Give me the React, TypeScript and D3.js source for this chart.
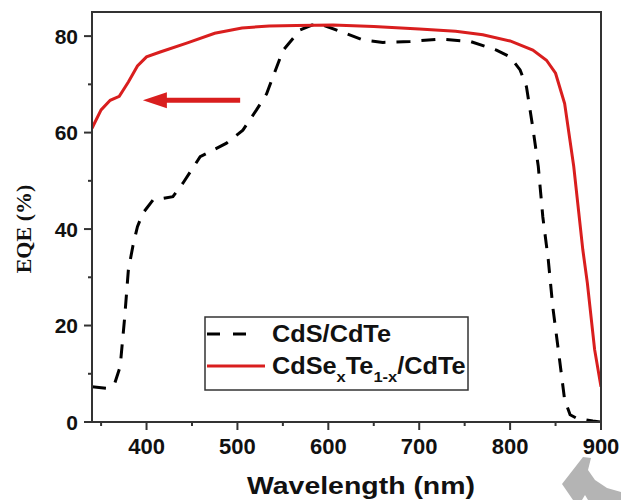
import React from "react";
import * as d3 from "d3";

const wlCdSeTe = [340, 350, 360, 370, 380, 390, 400, 415, 445, 475, 505, 535, 565, 605, 650, 700, 740, 770, 800, 825, 840, 850, 860, 870, 880, 885, 893, 900];
const eqeCdSeTe = [60.9, 64.7, 66.7, 67.5, 70.5, 73.8, 75.7, 76.7, 78.6, 80.6, 81.7, 82.1, 82.2, 82.3, 82.0, 81.5, 81.0, 80.3, 79.0, 77.1, 75.0, 72.3, 66, 53, 35.7, 28.8, 15, 7.3];

const wlCdS = [340, 356, 365, 371, 376, 380, 385, 390, 396, 407, 429, 440, 459, 488, 506, 521, 532, 550, 569, 582, 594, 613, 638, 660, 690, 723, 756, 785, 800, 811, 818, 825, 831, 836, 842, 847, 853, 860, 866, 873, 891, 900];
const eqeCdS = [7.3, 7, 8, 11.5, 21.8, 31.5, 36.5, 40.5, 43.3, 46, 46.7, 49.5, 55, 57.8, 60.5, 64.7, 68, 77, 81.3, 82.3, 82.3, 81, 79.2, 78.7, 78.9, 79.4, 78.9, 77.1, 75.7, 73, 69.5, 61, 53, 42.5, 33.6, 23.8, 15, 4.6, 1.5, 0.8, 0.2, 0];

const xMajor = [400, 500, 600, 700, 800, 900];
const xMinor = [350, 450, 550, 650, 750, 850];
const yMajor = [0, 20, 40, 60, 80];
const yMinor = [10, 30, 50, 70];

const arrowFrom = [503, 66.7];
const arrowTo = [396, 66.7];

const xLabel = "Wavelength (nm)";
const yLabel = "EQE (%)";
const legend1 = "CdS/CdTe";

const RED = "#d91e1e";
const AX = "#333";
const SANS = "'Liberation Sans', Arial, sans-serif";
const SERIF = "'Liberation Serif', 'Times New Roman', serif";

export default function App() {
  const x = d3.scaleLinear().domain([340, 900]).range([92, 601]);
  const y = d3.scaleLinear().domain([0, 85]).range([422, 12]);
  const line = d3
    .line<[number, number]>()
    .x((d) => x(d[0]))
    .y((d) => y(d[1]))
    .curve(d3.curveLinear);
  const redPts = wlCdSeTe.map((w, i) => [w, eqeCdSeTe[i]] as [number, number]);
  const blkPts = wlCdS.map((w, i) => [w, eqeCdS[i]] as [number, number]);

  const ax0 = x(arrowFrom[0]);
  const ax1 = x(arrowTo[0]);
  const ay = y(arrowTo[1]);
  const headLen = 24;

  return (
    <svg
      width={621}
      height={500}
      style={{ position: "absolute", left: 0, top: 0, background: "#fff" }}
    >
      <defs>
        <clipPath id="plot">
          <rect x={92} y={12} width={509} height={410} />
        </clipPath>
      </defs>
      {/* watermark */}
      <polygon
        points="583,457 591,458 588,470 595,480 607,488 621,492 621,500 588,500 585,495 582,500 573,500 562,484"
        fill="#b4b4b4"
      />
      {/* curves */}
      <g clipPath="url(#plot)">
        <path d={line(blkPts) || ""} fill="none" stroke="#000" strokeWidth={3} strokeDasharray="14,11" />
        <path d={line(redPts) || ""} fill="none" stroke={RED} strokeWidth={3} />
      </g>
      {/* arrow */}
      <line x1={ax0} y1={ay} x2={ax1 + headLen - 2} y2={ay} stroke={RED} strokeWidth={5} />
      <polygon
        points={`${ax1},${ay} ${ax1 + headLen},${ay - 8} ${ax1 + headLen},${ay + 8}`}
        fill={RED}
      />
      {/* frame */}
      <rect x={92} y={12} width={509} height={410} fill="none" stroke={AX} strokeWidth={2} />
      {/* x ticks */}
      {xMajor.map((t) => (
        <g key={"xm" + t}>
          <line x1={x(t)} x2={x(t)} y1={422} y2={430} stroke={AX} strokeWidth={2} />
          <text x={x(t)} y={454} textAnchor="middle" fontFamily={SANS} fontWeight="bold" fontSize={22} fill="#111">
            {t}
          </text>
        </g>
      ))}
      {xMinor.map((t) => (
        <line key={"xn" + t} x1={x(t)} x2={x(t)} y1={422} y2={426} stroke={AX} strokeWidth={2} />
      ))}
      {/* y ticks */}
      {yMajor.map((t) => (
        <g key={"ym" + t}>
          <line x1={84} x2={92} y1={y(t)} y2={y(t)} stroke={AX} strokeWidth={2} />
          <text x={78} y={y(t) + 7.5} textAnchor="end" fontFamily={SANS} fontWeight="bold" fontSize={21} fill="#111">
            {t}
          </text>
        </g>
      ))}
      {yMinor.map((t) => (
        <line key={"yn" + t} x1={88} x2={92} y1={y(t)} y2={y(t)} stroke={AX} strokeWidth={2} />
      ))}
      {/* axis labels */}
      <text
        x={247}
        y={494}
        fontFamily={SANS}
        fontWeight="bold"
        fontSize={23}
        fill="#111"
        textLength={228}
        lengthAdjust="spacingAndGlyphs"
      >
        {xLabel}
      </text>
      <text
        transform="translate(31,229) rotate(-90)"
        textAnchor="middle"
        fontFamily={SERIF}
        fontWeight="bold"
        fontSize={22}
        fill="#111"
      >
        {yLabel}
      </text>
      {/* legend */}
      <rect x={205} y={317} width={263} height={73} fill="#fff" stroke={AX} strokeWidth={1.5} />
      <line x1={207} x2={249} y1={334} y2={334} stroke="#000" strokeWidth={3} strokeDasharray="13,13" />
      <text
        x={272}
        y={342}
        fontFamily={SANS}
        fontWeight="bold"
        fontSize={23}
        fill="#111"
        textLength={119}
        lengthAdjust="spacingAndGlyphs"
      >
        {legend1}
      </text>
      <line x1={207} x2={265} y1={366} y2={366} stroke={RED} strokeWidth={3} />
      <g transform="translate(272,374) scale(1.1,1)">
        <text x={0} y={0} fontFamily={SANS} fontWeight="bold" fontSize={23} fill="#111">
          CdSe
          <tspan dy={8} fontSize={15}>x</tspan>
          <tspan dy={-8}>Te</tspan>
          <tspan dy={8} fontSize={15}>1-x</tspan>
          <tspan dy={-8}>/CdTe</tspan>
        </text>
      </g>
    </svg>
  );
}
